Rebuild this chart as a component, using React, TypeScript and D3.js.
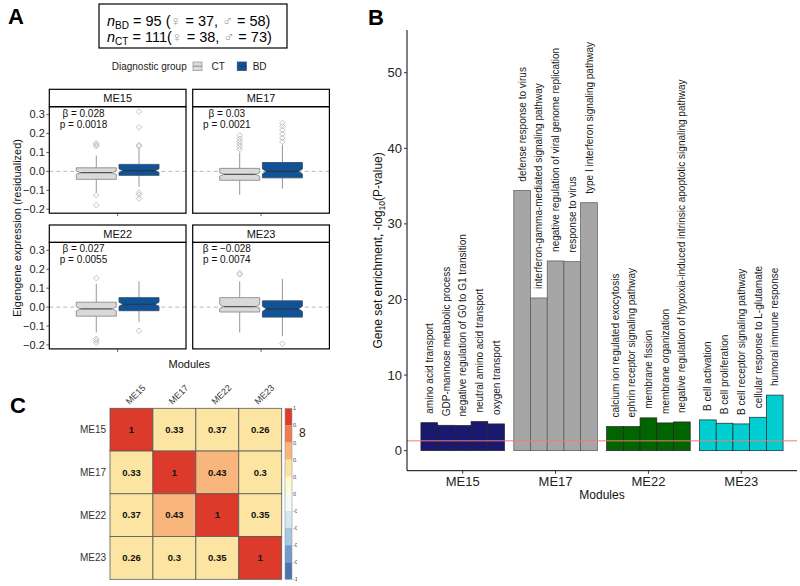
import React from "react";
import * as d3 from "d3";

const FONT = "'Liberation Sans', Arial, Helvetica, sans-serif";

// ---------- Panel A data ----------
const modulesA = ["ME15", "ME17", "ME22", "ME23"];
const groupNames = ["CT", "BD"];
const groupSizes = [111, 95];
// [lowerWhisker, q1, median, q3, upperWhisker]
const ctStats = [
  [-0.112, -0.042, -0.007, 0.019, 0.084],
  [-0.123, -0.047, -0.016, 0.016, 0.1],
  [-0.134, -0.048, -0.009, 0.026, 0.123],
  [-0.134, -0.026, 0.003, 0.05, 0.136],
];
const bdStats = [
  [-0.082, -0.021, 0.004, 0.037, 0.12],
  [-0.091, -0.034, 0.0, 0.047, 0.14],
  [-0.079, -0.019, 0.015, 0.05, 0.137],
  [-0.154, -0.053, -0.009, 0.033, 0.149],
];
const ctOutliers = [
  [0.149, 0.14, 0.133, -0.126, -0.179],
  [0.19, 0.172, 0.158, 0.145, 0.132, 0.118],
  [0.153, -0.168, -0.177, -0.189],
  [0.18, 0.172],
];
const bdOutliers = [
  [0.316, 0.233, 0.139, 0.133, -0.112, -0.123, -0.144],
  [0.256, 0.238, 0.218, 0.198, 0.177, 0.157],
  [-0.125],
  [-0.194],
];
const betaLabels = ["0.028", "0.03", "0.027", "\u22120.028"];
const pLabels = ["0.0018", "0.0021", "0.0055", "0.0074"];
const yTicksA = [0.3, 0.2, 0.1, 0.0, -0.1, -0.2];

// ---------- Panel B data ----------
const modulesB = ["ME15", "ME17", "ME22", "ME23"];
const moduleColors = ["#191970", "#a6a6a6", "#006400", "#00ced1"];
const termsME15 = [
  "amino acid transport",
  "GDP-mannose metabolic process",
  "negative regulation of G0 to G1 transition",
  "neutral amino acid transport",
  "oxygen transport",
];
const valuesME15 = [3.7, 3.36, 3.33, 3.85, 3.54];
const termsME17 = [
  "defense response to virus",
  "interferon-gamma-mediated signaling pathway",
  "negative regulation of viral genome replication",
  "response to virus",
  "type I interferon signaling pathway",
];
const valuesME17 = [34.4, 20.2, 25.1, 25.0, 32.8];
const termsME22 = [
  "calcium ion regulated exocytosis",
  "ephrin receptor signaling pathway",
  "membrane fission",
  "membrane organization",
  "negative regulation of hypoxia-induced intrinsic apoptotic signaling pathway",
];
const valuesME22 = [3.19, 3.19, 4.34, 3.67, 3.8];
const termsME23 = [
  "B cell activation",
  "B cell proliferation",
  "B cell receptor signaling pathway",
  "cellular response to L-glutamate",
  "humoral immune response",
];
const valuesME23 = [4.07, 3.63, 3.54, 4.42, 7.35];
const yTicksB = [0, 10, 20, 30, 40, 50];
const thresholdB = 1.3;

// ---------- Panel C data ----------
const corrModules = ["ME15", "ME17", "ME22", "ME23"];
const corrMatrix = [
  [1, 0.33, 0.37, 0.26],
  [0.33, 1, 0.43, 0.3],
  [0.37, 0.43, 1, 0.35],
  [0.26, 0.3, 0.35, 1],
];
const colorbarTicks = [1, 0.8, 0.6, 0.4, 0.2, 0, -0.2, -0.4, -0.6, -0.8, -1];
const corrPalette = [
  "#4a74b4", "#6f9ccb", "#a5c8e1", "#d3e8f1", "#f4fafc",
  "#fdfbd0", "#fce5a2", "#f8b57c", "#f07a52", "#dc3a2a",
];

// ---------- Layout ----------
const colX = [49.3, 192.7];
const panelW = 136.7;
const stripTop = [89.3, 225];
const stripH = 17.4;
const panelH = 106.5;

function Diamond({ x, y, r = 2.8 }: { x: number; y: number; r?: number }) {
  return (
    <path
      d={`M${x},${y - r}L${x + r},${y}L${x},${y + r}L${x - r},${y}Z`}
      fill="none"
      stroke="#b5b5b5"
      strokeWidth={0.8}
    />
  );
}

function BoxPlot({
  stats, outliers, cx, y, fill, stroke, medStroke, n,
}: any) {
  const [lw, q1, med, q3, uw] = stats;
  const hw = 20;
  const ni = 4;
  const nh = (1.58 * (q3 - q1)) / Math.sqrt(n);
  const yq1 = y(q1), yq3 = y(q3), ym = y(med);
  const ynt = y(med + nh), ynb = y(med - nh);
  const d = `M${cx - hw},${yq3}L${cx + hw},${yq3}L${cx + hw},${ynt}L${cx + hw - ni},${ym}L${cx + hw},${ynb}L${cx + hw},${yq1}L${cx - hw},${yq1}L${cx - hw},${ynb}L${cx - hw + ni},${ym}L${cx - hw},${ynt}Z`;
  return (
    <g>
      <line x1={cx} x2={cx} y1={y(uw)} y2={yq3} stroke="#8a8a8a" strokeWidth={0.9} />
      <line x1={cx} x2={cx} y1={yq1} y2={y(lw)} stroke="#8a8a8a" strokeWidth={0.9} />
      <path d={d} fill={fill} stroke={stroke} strokeWidth={0.9} />
      <line x1={cx - hw + ni} x2={cx + hw - ni} y1={ym} y2={ym} stroke={medStroke} strokeWidth={1.2} />
      {outliers.map((o: number, i: number) => (
        <Diamond key={i} x={cx} y={y(o)} />
      ))}
    </g>
  );
}

function PanelA() {
  const yA = d3.scaleLinear().domain([-0.221, 0.342]).range([panelH, 0]);
  const xIn = d3.scaleLinear().domain([0.4, 1.6]).range([0, panelW]);
  const dodge = 0.1875;
  return (
    <g fontFamily={FONT}>
      <text x={8} y={24} fontSize={22} fontWeight="bold" fill="#000">A</text>
      <rect x={99} y={4} width={188} height={44} fill="#fff" stroke="#000" strokeWidth={1.2} />
      <text x={107} y={26} fontSize={14.5} fill="#000">
        <tspan fontStyle="italic">n</tspan>
        <tspan fontSize={10} dy={3}>BD</tspan>
        <tspan dy={-3}> = 95 (</tspan>
        <tspan fill="#9a9a9a">{"\u2640"}</tspan>
        <tspan> = 37, </tspan>
        <tspan fill="#9a9a9a">{"\u2642"}</tspan>
        <tspan> = 58)</tspan>
      </text>
      <text x={107} y={42} fontSize={14.5} fill="#000">
        <tspan fontStyle="italic">n</tspan>
        <tspan fontSize={10} dy={3}>CT</tspan>
        <tspan dy={-3}> = 111(</tspan>
        <tspan fill="#9a9a9a">{"\u2640"}</tspan>
        <tspan> = 38, </tspan>
        <tspan fill="#9a9a9a">{"\u2642"}</tspan>
        <tspan> = 73)</tspan>
      </text>
      <text x={111.7} y={69.5} fontSize={10} fill="#222">Diagnostic group</text>
      <rect x={193} y={62} width={9} height={8.5} fill="#dcdcdc" stroke="#9a9a9a" strokeWidth={0.8} />
      <line x1={193} x2={202} y1={66.2} y2={66.2} stroke="#777" strokeWidth={0.8} />
      <text x={211.5} y={69.5} fontSize={10} fill="#222">{groupNames[0]}</text>
      <rect x={237.3} y={62} width={9} height={8.5} fill="#0f5499" stroke="#2b4a72" strokeWidth={0.8} />
      <line x1={237.3} x2={246.3} y1={66.2} y2={66.2} stroke="#333" strokeWidth={0.8} />
      <text x={252.7} y={69.5} fontSize={10} fill="#222">{groupNames[1]}</text>

      {modulesA.map((m, i) => {
        const col = i % 2;
        const row = Math.floor(i / 2);
        const px = colX[col];
        const sTop = stripTop[row];
        const pTop = sTop + stripH;
        const y = (v: number) => pTop + yA(v);
        const cCT = px + xIn(1 - dodge);
        const cBD = px + xIn(1 + dodge);
        return (
          <g key={m}>
            <rect x={px} y={sTop} width={panelW} height={stripH} fill="#fff" stroke="#000" strokeWidth={1.2} />
            <text x={px + panelW / 2} y={sTop + stripH / 2 + 4} fontSize={11} textAnchor="middle" fill="#111">{m}</text>
            <line x1={px} x2={px + panelW} y1={y(0)} y2={y(0)} stroke="#b0b0b0" strokeWidth={0.9} strokeDasharray="4,3" />
            <BoxPlot stats={ctStats[i]} outliers={ctOutliers[i]} cx={cCT} y={y} fill="#d9d9d9" stroke="#8c8c8c" medStroke="#555" n={groupSizes[0]} />
            <BoxPlot stats={bdStats[i]} outliers={bdOutliers[i]} cx={cBD} y={y} fill="#0f5499" stroke="#3a4f6a" medStroke="#333" n={groupSizes[1]} />
            <text x={px + xIn(0.7)} y={pTop + 10} fontSize={10} textAnchor="middle" fill="#111">
              {"\u03b2 = " + betaLabels[i]}
            </text>
            <text x={px + xIn(0.7)} y={pTop + 21} fontSize={10} textAnchor="middle" fill="#111">
              {"p = " + pLabels[i]}
            </text>
            <rect x={px} y={pTop} width={panelW} height={panelH} fill="none" stroke="#000" strokeWidth={1.2} />
            {col === 0 &&
              yTicksA.map((t) => (
                <g key={t}>
                  <line x1={px - 3} x2={px} y1={y(t)} y2={y(t)} stroke="#333" strokeWidth={0.8} />
                  <text x={px - 4.5} y={y(t) + 3.8} fontSize={11} textAnchor="end" fill="#222">
                    {d3.format(".1f")(t)}
                  </text>
                </g>
              ))}
            <line x1={px + panelW / 2} x2={px + panelW / 2} y1={pTop + panelH} y2={pTop + panelH + 3} stroke="#333" strokeWidth={0.8} />
          </g>
        );
      })}
      <text x={(colX[0] + colX[1] + panelW) / 2} y={367.5} fontSize={11} textAnchor="middle" fill="#111">Modules</text>
      <text transform={`translate(17,228) rotate(-90)`} fontSize={11} textAnchor="middle" dy="0.35em" fill="#111">
        Eigengene expression (residualized)
      </text>
    </g>
  );
}

function PanelB() {
  const x0 = 407, x1 = 797, yBot = 470.7, yTop = 30;
  const y = d3.scaleLinear().domain([-2.65, 55.65]).range([yBot, yTop]);
  const xMod = d3.scalePoint<string>().domain(modulesB).range([x0, x1]).padding(0.6);
  const step = xMod.step();
  const termsAll = [termsME15, termsME17, termsME22, termsME23];
  const valuesAll = [valuesME15, valuesME17, valuesME22, valuesME23];
  return (
    <g fontFamily={FONT}>
      <text x={368} y={25} fontSize={22} fontWeight="bold" fill="#000">B</text>
      {modulesB.map((m, i) => {
        const c = xMod(m)!;
        const xBar = d3.scaleBand<number>().domain(d3.range(5)).range([c - 0.45 * step, c + 0.45 * step]);
        return (
          <g key={m}>
            {valuesAll[i].map((v, j) => (
              <rect key={j} x={xBar(j)!} y={y(v)} width={xBar.bandwidth()} height={y(0) - y(v)}
                fill={moduleColors[i]} stroke={i === 1 ? "#555" : "#222"} strokeWidth={0.7} />
            ))}
            {termsAll[i].map((t, j) => {
              const bx = xBar(j)! + xBar.bandwidth() / 2;
              const by = y(valuesAll[i][j]) - 9;
              return (
                <text key={t} transform={`translate(${bx},${by}) rotate(-90)`} dy="0.36em" fontSize={10} fill="#1a1a1a">
                  {t}
                </text>
              );
            })}
          </g>
        );
      })}
      <line x1={x0} x2={x1} y1={y(thresholdB)} y2={y(thresholdB)} stroke="#f07a7a" strokeWidth={1} />
      <line x1={x0} x2={x0} y1={yTop} y2={yBot} stroke="#000" strokeWidth={1} />
      <line x1={x0} x2={x1} y1={yBot} y2={yBot} stroke="#000" strokeWidth={1} />
      {yTicksB.map((t) => (
        <g key={t}>
          <line x1={x0 - 3} x2={x0} y1={y(t)} y2={y(t)} stroke="#333" />
          <text x={x0 - 5} y={y(t) + 4.5} fontSize={13} textAnchor="end" fill="#222">{t}</text>
        </g>
      ))}
      {modulesB.map((m) => (
        <g key={m}>
          <line x1={xMod(m)!} x2={xMod(m)!} y1={yBot} y2={yBot + 3} stroke="#333" />
          <text x={xMod(m)!} y={485.5} fontSize={13} textAnchor="middle" fill="#222">{m}</text>
        </g>
      ))}
      <text x={(x0 + x1) / 2} y={498.5} fontSize={12} textAnchor="middle" fill="#111">Modules</text>
      <text transform={`translate(378,${(yTop + yBot) / 2}) rotate(-90)`} fontSize={12} textAnchor="middle" dy="0.35em" fill="#111">
        <tspan>Gene set enrichment, -log</tspan>
        <tspan fontSize={8.5} dy={3}>10</tspan>
        <tspan dy={-3}>(P-value)</tspan>
      </text>
    </g>
  );
}

function PanelC() {
  const xs = d3.scaleBand<string>().domain(corrModules).range([110, 281.7]);
  const ys = d3.scaleBand<string>().domain(corrModules).range([408.3, 579.3]);
  const color = d3.scaleQuantize<string>().domain([-1, 1]).range(corrPalette);
  const cb = d3.scaleLinear().domain([-1, 1]).range([579.3, 408.3]);
  const bins = d3.range(10).map((k) => -1 + k * 0.2);
  return (
    <g fontFamily={FONT}>
      <defs>
        <clipPath id="cbclip">
          <rect x={280} y={395} width={17} height={195} />
        </clipPath>
      </defs>
      <text x={10} y={413} fontSize={22} fontWeight="bold" fill="#000">C</text>
      {corrModules.map((m) => (
        <text key={m} transform={`translate(${xs(m)! + xs.bandwidth() / 2 - 2},405) rotate(-45)`} fontSize={9} fill="#333">{m}</text>
      ))}
      {corrModules.map((m) => (
        <text key={m} x={106} y={ys(m)! + ys.bandwidth() / 2 + 3.5} fontSize={10} textAnchor="end" fill="#333">{m}</text>
      ))}
      {corrMatrix.map((row, i) =>
        row.map((v, j) => (
          <g key={`${i}-${j}`}>
            <rect x={xs(corrModules[j])!} y={ys(corrModules[i])!} width={xs.bandwidth()} height={ys.bandwidth()}
              fill={color(v === 1 ? 0.999 : v)} stroke="#5a5a5a" strokeWidth={0.8} />
            <text x={xs(corrModules[j])! + xs.bandwidth() / 2} y={ys(corrModules[i])! + ys.bandwidth() / 2 + 3.3}
              fontSize={9.5} fontWeight="bold" textAnchor="middle" fill="#111">{v}</text>
          </g>
        ))
      )}
      {bins.map((b, k) => (
        <rect key={k} x={285} y={cb(b + 0.2)} width={7} height={cb(b) - cb(b + 0.2)} fill={corrPalette[k]} stroke="none" />
      ))}
      <rect x={285} y={408.3} width={7} height={171} fill="none" stroke="#999" strokeWidth={0.6} />
      <g clipPath="url(#cbclip)">
        {colorbarTicks.map((t) => (
          <text key={t} x={293} y={cb(t) + 2} fontSize={5.5} fill="#444">{t}</text>
        ))}
      </g>
      <text x={299} y={437} fontSize={12} fill="#222">8</text>
    </g>
  );
}

export default function App() {
  return (
    <svg width={800} height={586} style={{ position: "absolute", left: 0, top: 0, background: "#fff" }}>
      <rect width={800} height={586} fill="#fff" />
      <PanelA />
      <PanelC />
      <PanelB />
    </svg>
  );
}
